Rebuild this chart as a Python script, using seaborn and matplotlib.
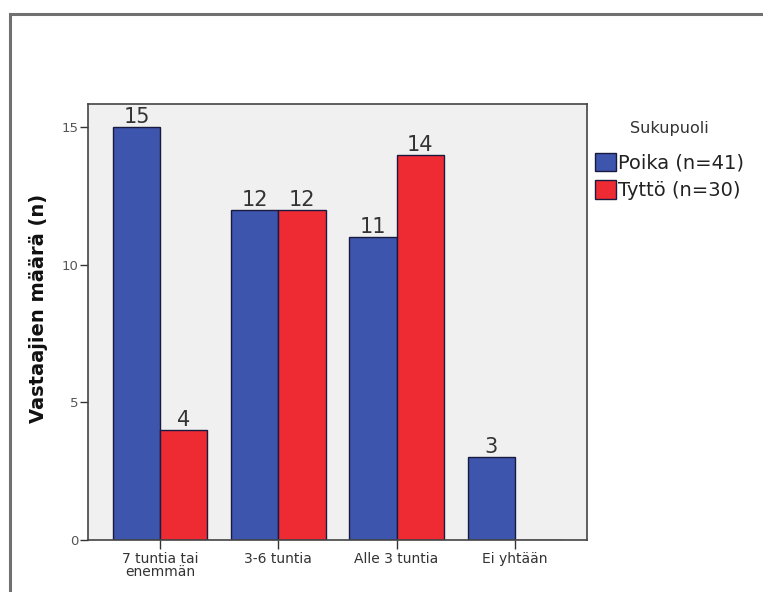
import matplotlib
matplotlib.use("Agg")
import matplotlib.pyplot as plt
from matplotlib.patches import Rectangle, Patch
import seaborn as sns
import pandas as pd

categories = ["7 tuntia tai\nenemmän", "3-6 tuntia", "Alle 3 tuntia", "Ei yhtään"]
groups = ["Poika (n=41)", "Tyttö (n=30)"]
poika = [15, 12, 11, 3]
tytto = [4, 12, 14, 0]
colors = ["#3d55ad", "#ee2b33"]

df = pd.DataFrame({
    "cat": categories * 2,
    "group": [groups[0]] * 4 + [groups[1]] * 4,
    "n": poika + tytto,
})

sns.set_theme(style="white")
plt.rcParams["font.family"] = ["DejaVu Sans"]

fig = plt.figure(figsize=(7.63, 5.92), dpi=100)
ax = fig.add_axes([88 / 763, 1 - 540 / 592, (587 - 88) / 763, (540 - 104) / 592])

sns.barplot(data=df, x="cat", y="n", hue="group", order=categories, hue_order=groups,
            palette=colors, width=0.8, edgecolor="#1a1a40", linewidth=1.0,
            saturation=1, ax=ax, legend=False)

ax.set_facecolor("#f0f0f0")
ax.set_xlim(-0.61, 3.61)
ax.set_ylim(0, 15.84)
ax.set_yticks([0, 5, 10, 15])
ax.set_xlabel("")
ax.set_ylabel("Vastaajien määrä (n)", fontsize=14, fontweight="bold", color="#111111")
ax.yaxis.set_label_coords(-0.08, 0.53)

for sp in ax.spines.values():
    sp.set_color("#444444")
    sp.set_linewidth(1.2)

ax.tick_params(axis="y", which="both", left=True, length=6, width=1, color="#333333",
               labelsize=9.5, labelcolor="#555555", pad=1)
ax.tick_params(axis="x", which="both", bottom=True, length=6.5, width=1, color="#333333",
               labelsize=10, labelcolor="#333333", pad=2)
for lab in ax.get_xticklabels():
    lab.set_linespacing(0.9)

for container, vals in zip(ax.containers, [poika, tytto]):
    labels = [str(v) if v > 0 else "" for v in vals]
    ax.bar_label(container, labels=labels, padding=0, fontsize=15, color="#333333")

handles = [Patch(facecolor=c, edgecolor="#1a1a40", linewidth=1.0) for c in colors]
leg = fig.legend(handles, groups, loc="upper left", bbox_to_anchor=(595 / 763, 1 - 121 / 592),
                 frameon=False, fontsize=14, title="Sukupuoli",
                 title_fontsize=11.5, handlelength=1.1, handleheight=1.1,
                 handletextpad=0.1, labelspacing=0.4, borderaxespad=0, borderpad=0.0)
leg.get_title().set_color("#333333")
leg._legend_box.sep = 12
for t in leg.get_texts():
    t.set_color("#222222")

fig.patches.append(Rectangle((10 / 763, -0.1), 1.2, 1.1 - 14 / 592, transform=fig.transFigure,
                             fill=False, edgecolor="#707070", linewidth=2.2, zorder=0))

fig.savefig("out.png", dpi=100, facecolor="white")
